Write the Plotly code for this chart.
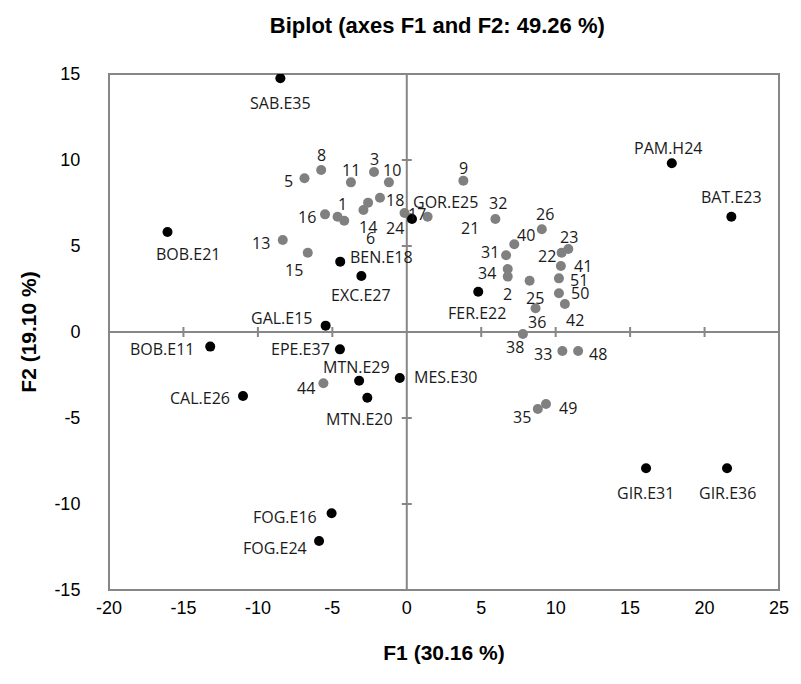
import plotly.graph_objects as go

# Observations (supplementary points, black)
obs_names = ["SAB.E35", "PAM.H24", "BAT.E23", "BOB.E21", "GOR.E25", "BEN.E18",
             "EXC.E27", "FER.E22", "GAL.E15", "BOB.E11", "EPE.E37", "MTN.E29",
             "MES.E30", "MTN.E20", "CAL.E26", "FOG.E16", "FOG.E24", "GIR.E31",
             "GIR.E36"]
obs_f1 = [-8.49, 17.8, 21.8, -16.07, 0.35, -4.47, -3.05, 4.8, -5.45, -13.2,
          -4.49, -3.2, -0.47, -2.65, -11.0, -5.05, -5.89, 16.07, 21.51]
obs_f2 = [14.75, 9.81, 6.70, 5.81, 6.57, 4.09, 3.26, 2.34, 0.37, -0.85,
          -1.01, -2.83, -2.67, -3.82, -3.72, -10.54, -12.15, -7.92, -7.92]

# Variables (grey points)
var_names = ["8", "5", "11", "3", "10", "18", "", "14", "16", "1", "6", "13",
             "15", "24", "17", "21", "9", "32", "26", "40", "23", "22", "31",
             "41", "34", "2", "25", "51", "50", "42", "36", "38", "33", "48",
             "35", "49", "44"]
var_f1 = [-5.75, -6.87, -3.75, -2.2, -1.2, -1.8, -2.6, -2.91, -5.49, -4.65,
          -4.2, -8.33, -6.65, -0.15, 0.27, 1.4, 3.8, 5.95, 9.07, 7.22, 10.85,
          10.4, 6.67, 10.35, 6.78, 6.78, 8.25, 10.22, 10.22, 10.62, 8.65, 7.8,
          10.45, 11.51, 8.8, 9.35, -5.6]
var_f2 = [9.42, 8.94, 8.70, 9.30, 8.70, 7.81, 7.52, 7.09, 6.84, 6.70, 6.47,
          5.35, 4.61, 6.92, 6.63, 6.70, 8.80, 6.57, 5.97, 5.10, 4.83, 4.61,
          4.46, 3.84, 3.66, 3.22, 2.98, 3.12, 2.25, 1.63, 1.38, -0.12, -1.10,
          -1.10, -4.48, -4.19, -2.98]

x_ticks = [-20, -15, -10, -5, 0, 5, 10, 15, 20, 25]
y_ticks = [-15, -10, -5, 0, 5, 10, 15]

# Label offsets in pixels (dx right, dy down) from each point
obs_offsets = {
    "SAB.E35": (0, 25), "PAM.H24": (-4, -15), "BAT.E23": (0, -20),
    "BOB.E21": (21, 22), "GOR.E25": (34, -17), "BEN.E18": (41, -5),
    "EXC.E27": (0, 19), "FER.E22": (-1, 21), "GAL.E15": (-44, -8),
    "BOB.E11": (-48, 2), "EPE.E37": (-39, 0), "MTN.E29": (-3, -14),
    "MES.E30": (46, -1), "MTN.E20": (-8, 21), "CAL.E26": (-43, 2),
    "FOG.E16": (-47, 4), "FOG.E24": (-44, 7), "GIR.E31": (-1, 25),
    "GIR.E36": (0, 25),
}
var_offsets = {
    "8": (0, -15), "5": (-16, 3), "11": (0, -12), "3": (0, -13),
    "10": (3, -12), "18": (15, 2), "": (0, 0), "14": (5, 17), "16": (-18, 3),
    "1": (5, -13), "6": (26, 17), "13": (-22, 3), "15": (-14, 17),
    "24": (-10, 15), "17": (6, -4), "21": (42, 11), "9": (0, -13),
    "32": (3, -16), "26": (3, -15), "40": (12, -9), "23": (1, -12),
    "22": (-15, 3), "31": (-16, -3), "41": (22, 0), "34": (-21, 4),
    "2": (0, 17), "25": (5, 17), "51": (20, 2), "50": (21, 0),
    "42": (10, 16), "36": (1, 14), "38": (-8, 13), "33": (-19, 3),
    "48": (20, 3), "35": (-16, 8), "49": (22, 4), "44": (-17, 5),
}

FRAME = "#878787"
LABEL_FONT = dict(family="Open Sans", size=16, color="#1a1a1a")
AXIS_FONT = dict(family="Liberation Sans", size=18, color="#000000")
TITLE_FONT = dict(family="Liberation Sans", size=22, color="#000000")

fig = go.Figure()

fig.add_trace(go.Scatter(
    x=var_f1, y=var_f2, mode="markers", name="Variables",
    marker=dict(color="#808080", size=10, line=dict(width=0)),
    hovertext=var_names, showlegend=False,
))
fig.add_trace(go.Scatter(
    x=obs_f1, y=obs_f2, mode="markers", name="Observations",
    marker=dict(color="#000000", size=10, line=dict(width=0)),
    hovertext=obs_names, showlegend=False,
))

annotations = []
for name, x, y in zip(var_names, var_f1, var_f2):
    if not name:
        continue
    dx, dy = var_offsets[name]
    annotations.append(dict(x=x, y=y, text=name, showarrow=False,
                            xshift=dx, yshift=-dy, font=LABEL_FONT))
for name, x, y in zip(obs_names, obs_f1, obs_f2):
    dx, dy = obs_offsets[name]
    annotations.append(dict(x=x, y=y, text=name, showarrow=False,
                            xshift=dx, yshift=-dy, font=LABEL_FONT))

# Frame, central axes and crossing tick marks
shapes = [
    dict(type="rect", xref="paper", yref="paper", x0=0, y0=0, x1=1, y1=1,
         line=dict(color=FRAME, width=2), layer="below"),
    dict(type="line", xref="x", yref="y", x0=x_ticks[0], x1=x_ticks[-1],
         y0=0, y1=0, line=dict(color=FRAME, width=2), layer="below"),
    dict(type="line", xref="x", yref="y", x0=0, x1=0,
         y0=y_ticks[0], y1=y_ticks[-1], line=dict(color=FRAME, width=2),
         layer="below"),
]
for t in x_ticks[1:-1]:
    if t == 0:
        continue
    shapes.append(dict(type="line", xref="x", yref="y", ysizemode="pixel",
                       yanchor=0, x0=t, x1=t, y0=-5, y1=5,
                       line=dict(color=FRAME, width=2), layer="below"))
for t in y_ticks[1:-1]:
    if t == 0:
        continue
    shapes.append(dict(type="line", xref="x", yref="y", xsizemode="pixel",
                       xanchor=0, y0=t, y1=t, x0=-5, x1=5,
                       line=dict(color=FRAME, width=2), layer="below"))

fig.update_layout(
    width=801, height=684,
    margin=dict(l=109, r=17, t=74, b=94),
    paper_bgcolor="white", plot_bgcolor="white",
    title=dict(text="<b>Biplot (axes F1 and F2: 49.26 %)</b>",
               x=0.546, xanchor="center", y=0.963, yanchor="middle",
               font=TITLE_FONT),
    xaxis=dict(range=[-20, 25], tickvals=x_ticks, ticktext=[str(t) for t in x_ticks],
               showgrid=False, zeroline=False, showline=False,
               ticks="outside", ticklen=1, tickcolor="rgba(0,0,0,0)",
               tickfont=AXIS_FONT,
               title=dict(text="<b>F1 (30.16 %)</b>", standoff=28,
                          font=dict(family="Liberation Sans", size=21, color="#000000"))),
    yaxis=dict(range=[-15, 15], tickvals=y_ticks, ticktext=[str(t) for t in y_ticks],
               showgrid=False, zeroline=False, showline=False,
               ticks="outside", ticklen=24, tickcolor="rgba(0,0,0,0)",
               tickfont=AXIS_FONT,
               title=dict(text="<b>F2 (19.10 %)</b>", standoff=12,
                          font=dict(family="Liberation Sans", size=21, color="#000000"))),
    annotations=annotations,
    shapes=shapes,
)

fig.write_html("out.html")
